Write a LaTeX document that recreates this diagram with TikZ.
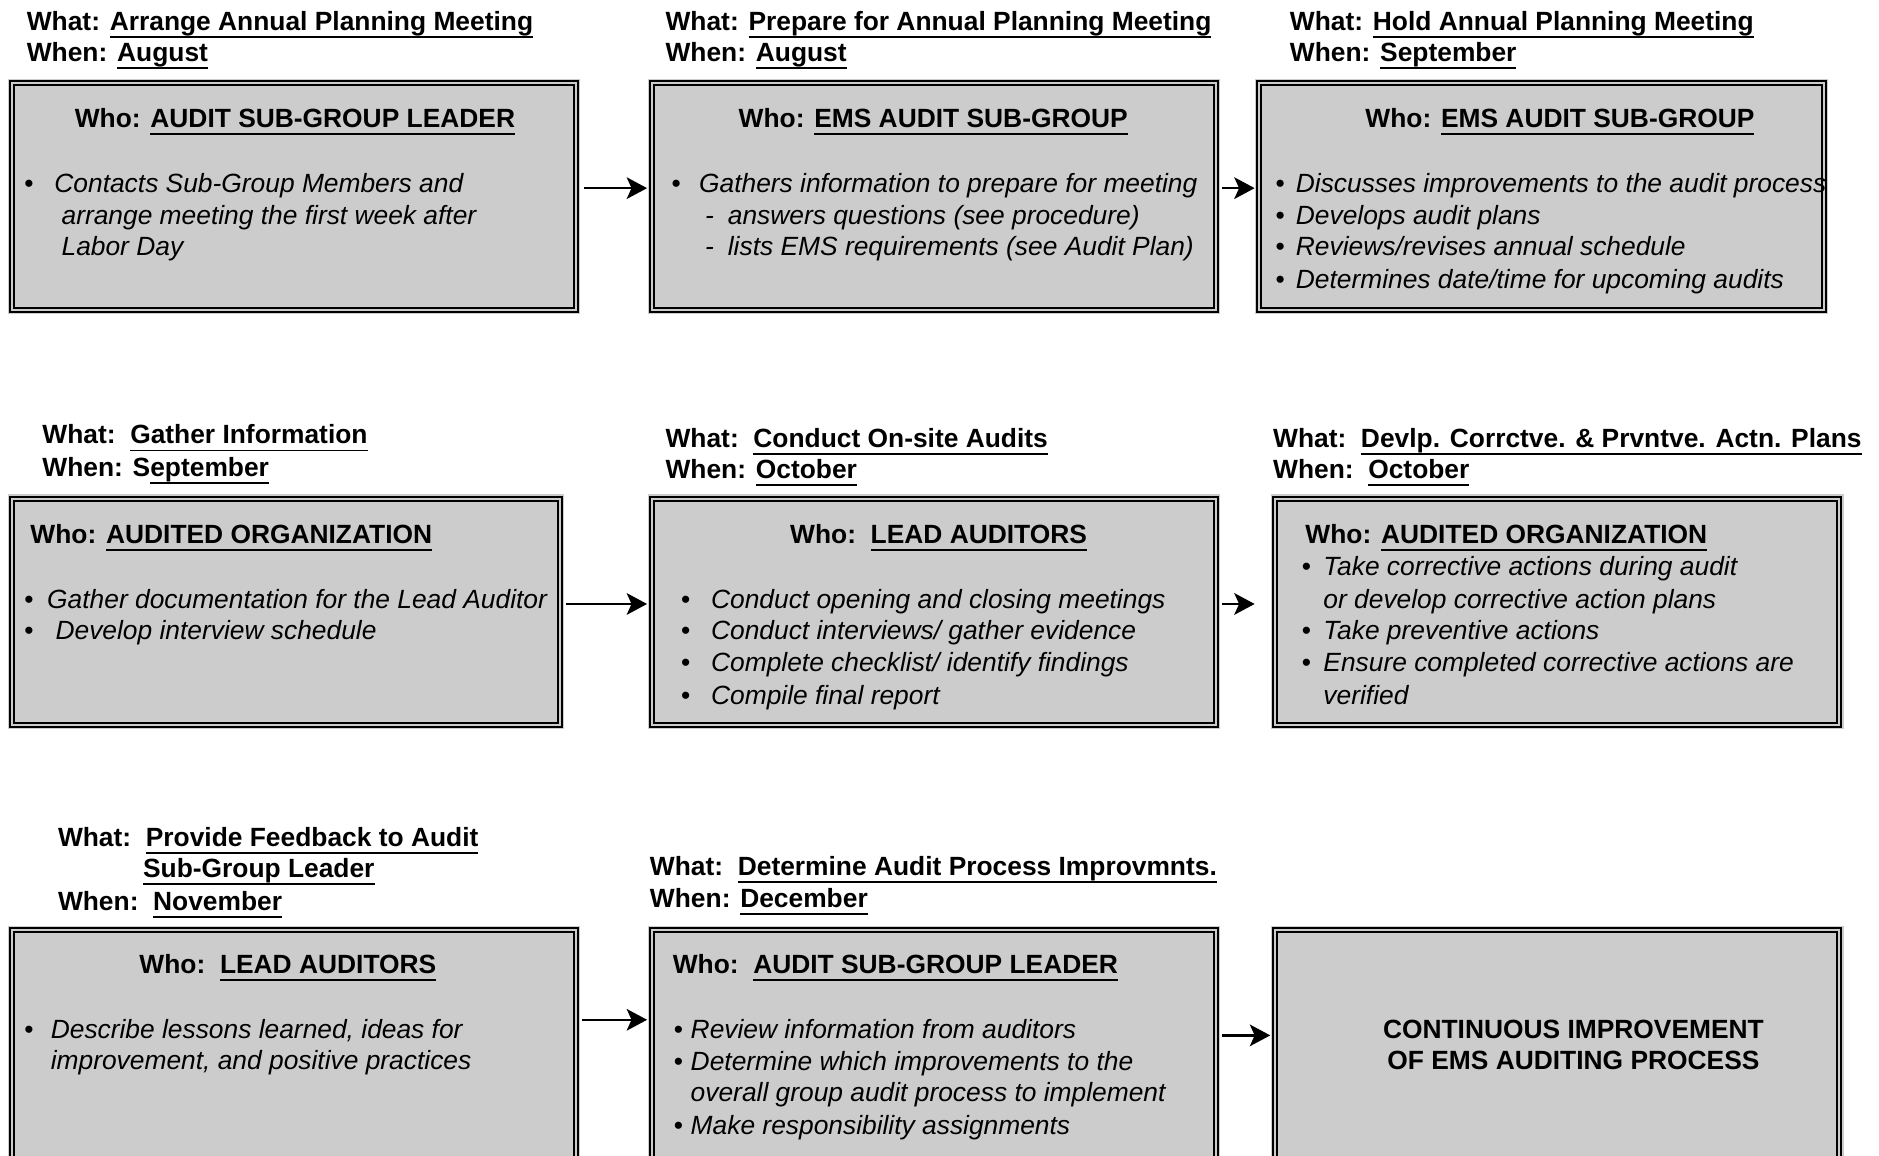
\documentclass[tikz,border=0pt]{standalone}
\usepackage{fontspec}
\setmainfont{Liberation Sans}
\usetikzlibrary{arrows.meta,fit,calc}
\definecolor{boxgray}{RGB}{204,204,204}
% underline at a fixed depth below the baseline
\newcommand\uln[1]{\setbox0=\hbox{#1}\rlap{\rule[-3.1pt]{\wd0}{0.8pt}}\box0}
\begin{document}
\begin{tikzpicture}[x=0.5pt,y=-0.5pt,
  box/.style={fill=boxgray, draw=black, line width=0.83pt, double=boxgray,
    double distance=0.83pt, inner sep=0pt, outer sep=0pt,
    preaction={draw=boxgray, line width=3.4pt}},
  hd/.style={anchor=base west, inner sep=0pt, font=\fontsize{11}{13}\selectfont\bfseries},
  hc/.style={anchor=base, inner sep=0pt, font=\fontsize{11}{13}\selectfont\bfseries},
  it/.style={anchor=base west, inner sep=0pt, font=\fontsize{11}{13}\selectfont\itshape},
  bl/.style={anchor=base west, inner sep=0pt, font=\fontsize{11}{13}\selectfont},
  arr/.style={-{Stealth[length=8.5pt,width=9pt,inset=2pt]}, line width=1.05pt}]
\clip (0,0) rectangle (1568,964);
\fill[white] (0,0) rectangle (1568,964);

% ---------- boxes ----------
\node[box, fit={(10,69) (481,259)}] (b1) {};
\node[box, fit={(544,69) (1015,259)}] (b2) {};
\node[box, fit={(1051,69) (1522,259)}] (b3) {};
\node[box, fit={(10,416) (467,605)}] (b4) {};
\node[box, fit={(544,416) (1015,605)}] (b5) {};
\node[box, fit={(1064,416) (1535,605)}] (b6) {};
\node[box, fit={(10,776) (481,1000)}] (b7) {};
\node[box, fit={(544,776) (1015,1000)}] (b8) {};
\node[box, fit={(1064,776) (1535,1000)}] (b9) {};

% ---------- arrows ----------
\draw[arr] ($(b1.east)+(6,-7)$) -- ($(b2.west)+(-4,-7)$);
\draw[arr] ($(b2.east)+(5,-7)$) -- ($(b3.west)+(-4,-7)$);
\draw[arr] ($(b4.east)+(5,-6.5)$) -- ($(b5.west)+(-4,-6.5)$);
\draw[arr] ($(b5.east)+(5,-6.5)$) -- ($(b6.west)+(-17,-6.5)$);
\draw[arr] ($(b7.east)+(5,-37)$) -- ($(b8.west)+(-4,-37)$);
\draw[arr] ($(b8.east)+(5,-24)$) -- ($(b9.west)+(-4,-24)$);

% ---------- row 1 ----------
\node[hd] (w1) at (22,25.5) {What: \uln{Arrange Annual Planning Meeting}};
\node[hd] (n1) at (22,51.5) {When: \uln{August}};
\node[hd] (w2) at (555,25.5) {What: \uln{Prepare for Annual Planning Meeting}};
\node[hd] (n2) at (555,51.5) {When: \uln{August}};
\node[hd] (w3) at (1076,25.5) {What: \uln{Hold Annual Planning Meeting}};
\node[hd] (n3) at (1076,51.5) {When: \uln{September}};

\node[hd] (o1) at (62,106.5) {Who: \uln{AUDIT SUB-GROUP LEADER}};
\node[bl] (p1a) at (20,160.5) {•};
\node[it] (t1a) at (45,160.5) {Contacts Sub-Group Members and};
\node[it] (t1b) at (51,187.5) {arrange meeting the first week after};
\node[it] (t1c) at (51,213.5) {Labor Day};

\node[hd] (o2) at (616,106.5) {Who: \uln{EMS AUDIT SUB-GROUP}};
\node[bl] (p2a) at (560,160.5) {•};
\node[it] (t2a) at (583,160.5) {Gathers information to prepare for meeting};
\node[it] (d2b) at (588,187.5) {-};
\node[it] (t2b) at (607,187.5) {answers questions (see procedure)};
\node[it] (d2c) at (588,213.5) {-};
\node[it] (t2c) at (607,213.5) {lists EMS requirements (see Audit Plan)};

\node[hd] (o3) at (1139,106.5) {Who: \uln{EMS AUDIT SUB-GROUP}};
\node[bl] (p3a) at (1064,160.5) {•};
\node[it] (t3a) at (1081,160.5) {Discusses improvements to the audit process};
\node[bl] (p3b) at (1064,187.5) {•};
\node[it] (t3b) at (1081,187.5) {Develops audit plans};
\node[bl] (p3c) at (1064,213.5) {•};
\node[it] (t3c) at (1081,213.5) {Reviews/revises annual schedule};
\node[bl] (p3d) at (1064,240.5) {•};
\node[it] (t3d) at (1081,240.5) {Determines date/time for upcoming audits};

% ---------- row 2 ----------
\node[hd] (w4) at (35,370.5) {What:\ \ \uln{Gather Information}};
\node[hd] (n4) at (35,397.5) {When: S\uln{eptember}};
\node[hd] (w5) at (555,373.5) {What:\ \ \uln{Conduct On-site Audits}};
\node[hd] (n5) at (555,399.5) {When: \uln{October}};
\node[hd] (w6) at (1062,373.5) {What:\ \ \uln{Devlp. Corrctve. \& Prvntve. Actn. Plans}};
\node[hd] (n6) at (1062,399.5) {When:\ \ \uln{October}};

\node[hd] (o4) at (25,453.5) {Who: \uln{AUDITED ORGANIZATION}};
\node[bl] (p4a) at (20,507.5) {•};
\node[it] (t4a) at (39,507.5) {Gather documentation for the Lead Auditor};
\node[bl] (p4b) at (20,533.5) {•};
\node[it] (t4b) at (46,533.5) {Develop interview schedule};

\node[hd] (o5) at (659,453.5) {Who:\ \ \uln{LEAD AUDITORS}};
\node[bl] (p5a) at (568,507.5) {•};
\node[it] (t5a) at (593,507.5) {Conduct opening and closing meetings};
\node[bl] (p5b) at (568,533.5) {•};
\node[it] (t5b) at (593,533.5) {Conduct interviews/ gather evidence};
\node[bl] (p5c) at (568,560.5) {•};
\node[it] (t5c) at (593,560.5) {Complete checklist/ identify findings};
\node[bl] (p5d) at (568,587.5) {•};
\node[it] (t5d) at (593,587.5) {Compile final report};

\node[hd] (o6) at (1089,453.5) {Who: \uln{AUDITED ORGANIZATION}};
\node[bl] (p6a) at (1086,480.5) {•};
\node[it] (t6a) at (1104,480.5) {Take corrective actions during audit};
\node[it] (t6b) at (1104,507.5) {or develop corrective action plans};
\node[bl] (p6c) at (1086,533.5) {•};
\node[it] (t6c) at (1104,533.5) {Take preventive actions};
\node[bl] (p6d) at (1086,560.5) {•};
\node[it] (t6d) at (1104,560.5) {Ensure completed corrective actions are};
\node[it] (t6e) at (1104,587.5) {verified};

% ---------- row 3 ----------
\node[hd] (w7) at (48,706.5) {What:\ \ \uln{Provide Feedback to Audit}};
\node[hd] (w7b) at (119,732.5) {\uln{Sub-Group Leader}};
\node[hd] (n7) at (48,759.5) {When:\ \ \uln{November}};
\node[hd] (w8) at (542,730.5) {What:\ \ \uln{Determine Audit Process Improvmnts.}};
\node[hd] (n8) at (542,757.5) {When: \uln{December}};

\node[hd] (o7) at (116,812.5) {Who:\ \ \uln{LEAD AUDITORS}};
\node[bl] (p7a) at (20,866.5) {•};
\node[it] (t7a) at (42,866.5) {Describe lessons learned, ideas for};
\node[it] (t7b) at (42,892.5) {improvement, and positive practices};

\node[hd] (o8) at (561,812.5) {Who:\ \ \uln{AUDIT SUB-GROUP LEADER}};
\node[bl] (p8a) at (562,866.5) {•};
\node[it] (t8a) at (576,866.5) {Review information from auditors};
\node[bl] (p8b) at (562,893.5) {•};
\node[it] (t8b) at (576,893.5) {Determine which improvements to the};
\node[it] (t8c) at (576,919.5) {overall group audit process to implement};
\node[bl] (p8d) at (562,946.5) {•};
\node[it] (t8d) at (576,946.5) {Make responsibility assignments};

\node[hc] (c9a) at (1313,866.5) {CONTINUOUS IMPROVEMENT};
\node[hc] (c9b) at (1313,892.5) {OF EMS AUDITING PROCESS};
\end{tikzpicture}
\end{document}
